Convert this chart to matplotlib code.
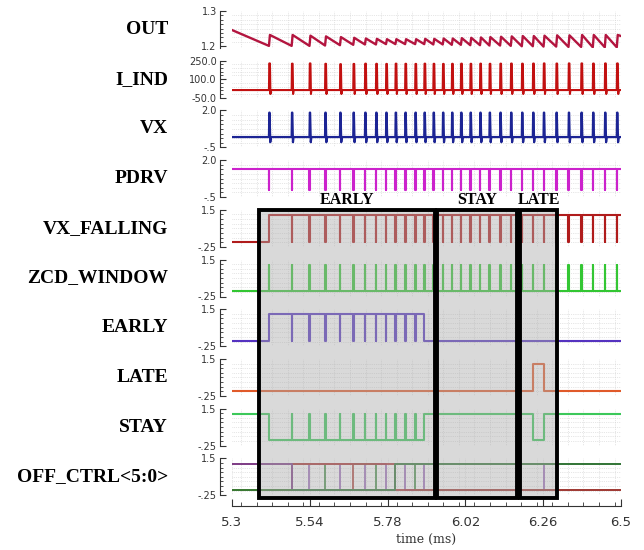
import matplotlib
matplotlib.use('Agg')
import matplotlib.pyplot as plt
import matplotlib.patches as patches
import matplotlib.transforms as mtransforms
from matplotlib.ticker import MultipleLocator, AutoMinorLocator, FixedLocator

pulse_t = [5.414, 5.484, 5.539, 5.587, 5.633, 5.674, 5.710, 5.744, 5.775, 5.804,
           5.834, 5.865, 5.893, 5.921, 5.950, 5.978, 6.006, 6.035, 6.065, 6.094,
           6.127, 6.160, 6.194, 6.228, 6.261, 6.300, 6.338, 6.377, 6.413, 6.450, 6.487]

# OUT ripple: value before each pulse, value just after it
out_start, out_end = 1.246, 1.229
out_trough = [1.201, 1.201, 1.201, 1.202, 1.203, 1.204, 1.205, 1.205, 1.206, 1.206,
              1.206, 1.206, 1.206, 1.205, 1.205, 1.204, 1.204, 1.203, 1.203, 1.202,
              1.202, 1.201, 1.200, 1.200, 1.199, 1.199, 1.198, 1.198, 1.197, 1.197, 1.197]
out_peak = [1.232, 1.232, 1.230, 1.228, 1.226, 1.224, 1.222, 1.221, 1.220, 1.220,
            1.220, 1.220, 1.221, 1.221, 1.222, 1.222, 1.223, 1.224, 1.225, 1.226,
            1.227, 1.228, 1.229, 1.229, 1.230, 1.231, 1.231, 1.232, 1.232, 1.232, 1.232]

iind_base, iind_dip = 12, -20
iind_peak = [228, 226, 228, 225, 222, 224, 226, 225, 224, 226,
             225, 224, 226, 225, 224, 225, 226, 225, 226, 225,
             226, 227, 226, 227, 228, 227, 228, 228, 227, 228, 228]

vx_base, vx_peak, vx_dip = 0.2, 1.85, -0.15
pdrv_high, pdrv_low = 1.37, -0.05
logic_low, logic_high = 0.0, 1.25

early_start, early_stop = 5.414, 5.893
late_start, late_stop = 6.228, 6.262

off_ctrl_edges = [5.484, 5.539, 5.587, 5.633, 5.674, 5.710, 5.744, 5.775, 5.804,
                  5.834, 5.865, 5.893, 6.261]
off_ctrl_codes = [40, 39, 38, 37, 36, 35, 34, 33, 32, 31, 30, 29, 28, 29]

region_names = ['EARLY', 'STAY', 'LATE']
region_start = [5.384, 5.932, 6.189]
region_end = [5.927, 6.179, 6.302]

names = ['OUT', 'I_IND', 'VX', 'PDRV', 'VX_FALLING', 'ZCD_WINDOW',
         'EARLY', 'LATE', 'STAY', 'OFF_CTRL<5:0>']

T0, T1 = 5.3, 6.5
W = 0.0015


def digital(init, edges):
    # edges: list of (time, new level)
    xs, ys = [T0], [init]
    cur = init
    for t, v in sorted(edges):
        xs += [t, t]
        ys += [cur, v]
        cur = v
    xs.append(T1)
    ys.append(cur)
    return xs, ys


def dips(times, lo, hi):
    e = []
    for t in times:
        e += [(t, lo), (t + W, hi)]
    return e


fig = plt.figure(figsize=(6.44, 5.5), dpi=100)
W_PX, H_PX = 644, 550
left, width = 232 / W_PX, 389 / W_PX
axes = []
for i in range(10):
    top = 11 + i * 49.7
    ax = fig.add_axes([left, 1 - (top + 37) / H_PX, width, 37 / H_PX])
    axes.append(ax)

ylims = [(1.195, 1.3), (-50, 250), (-0.5, 2.0), (-0.5, 2.0)] + [(-0.25, 1.5)] * 6
yticks = [[1.2, 1.3], [-50, 100, 250], [-0.5, 2.0], [-0.5, 2.0]] + [[-0.25, 1.5]] * 6
ylabels = [['1.2', '1.3'], ['-50.0', '100.0', '250.0'], ['-.5', '2.0'], ['-.5', '2.0']] + [['-.25', '1.5']] * 6

for i, ax in enumerate(axes):
    ax.set_xlim(T0, T1)
    ax.set_ylim(*ylims[i])
    ax.yaxis.set_major_locator(FixedLocator(yticks[i]))
    ax.set_yticklabels(ylabels[i])
    ax.yaxis.set_minor_locator(AutoMinorLocator(8 if i != 1 else 5))
    ax.xaxis.set_major_locator(MultipleLocator(0.24))
    ax.xaxis.set_minor_locator(MultipleLocator(0.048))
    for s in ['top', 'right', 'bottom']:
        ax.spines[s].set_visible(False)
    ax.spines['left'].set_position(('outward', 9))
    ax.spines['left'].set_color('#333333')
    ax.tick_params(axis='y', which='both', direction='in', colors='#333333',
                   labelsize=7, pad=2)
    ax.tick_params(axis='y', which='major', length=4)
    ax.tick_params(axis='y', which='minor', length=2.5)
    ax.tick_params(axis='x', which='both', bottom=False, labelbottom=False)
    ax.grid(True, which='both', axis='x', ls=':', lw=0.5, color='#cfcfcf')
    ax.grid(True, which='minor', axis='y', ls=':', lw=0.5, color='#cfcfcf')
    ax.set_facecolor('white')

# OUT
xs, ys = [T0], [out_start]
for t, lo, hi in zip(pulse_t, out_trough, out_peak):
    xs += [t, t + 0.003]
    ys += [lo, hi]
xs.append(T1)
ys.append(out_end)
axes[0].plot(xs, ys, color='#b3153f', lw=1.7)

# I_IND
xs, ys = [T0], [iind_base]
for t, pk in zip(pulse_t, iind_peak):
    xs += [t, t + 0.001, t + 0.003, t + 0.0045, t + 0.006]
    ys += [iind_base, pk, pk, iind_dip, iind_base]
xs.append(T1)
ys.append(iind_base)
axes[1].plot(xs, ys, color='#c21010', lw=1.5)

# VX
xs, ys = [T0], [vx_base]
for t in pulse_t:
    xs += [t, t + 0.001, t + 0.002, t + 0.004, t + 0.006]
    ys += [vx_base, vx_peak, vx_peak, vx_dip, vx_base]
xs.append(T1)
ys.append(vx_base)
axes[2].plot(xs, ys, color='#1c2494', lw=1.6)

# PDRV
axes[3].plot(*digital(pdrv_high, dips(pulse_t, pdrv_low, pdrv_high)), color='#cc22cc', lw=1.5)

# VX_FALLING
e = [(pulse_t[0], logic_high)] + dips(pulse_t[1:], logic_low, logic_high)
axes[4].plot(*digital(logic_low, e), color='#b01c1c', lw=1.5)

# ZCD_WINDOW
axes[5].plot(*digital(logic_low, dips(pulse_t, logic_high, logic_low)), color='#33c633', lw=1.5)

# EARLY
inner = [t for t in pulse_t if early_start < t < early_stop]
e = [(early_start, logic_high), (early_stop, logic_low)] + dips(inner, logic_low, logic_high)
axes[6].plot(*digital(logic_low, e), color='#5533c0', lw=1.5)

# LATE
axes[7].plot(*digital(logic_low, [(late_start, logic_high), (late_stop, logic_low)]),
             color='#e05a2a', lw=1.5)

# STAY
e = [(early_start, logic_low), (early_stop, logic_high),
     (late_start, logic_low), (late_stop, logic_high)] + dips(inner, logic_high, logic_low)
axes[8].plot(*digital(logic_high, e), color='#3cc85a', lw=1.5)

# OFF_CTRL<5:0> bus, one line per bit
bit_colors = {0: '#9a6ab8', 1: '#4c9a4c', 2: '#c05050', 3: '#7b3f8f', 4: '#2e7d32', 5: '#a83232'}
for b in [0, 1, 2, 5, 3, 4]:
    lv = [logic_high if (c >> b) & 1 else logic_low for c in off_ctrl_codes]
    axes[9].plot(*digital(lv[0], list(zip(off_ctrl_edges, lv[1:]))),
                 color=bit_colors[b], lw=1.3)

# bottom time axis
axb = axes[9]
axb.spines['bottom'].set_visible(True)
axb.spines['bottom'].set_position(('outward', 8))
axb.spines['bottom'].set_color('#333333')
axb.tick_params(axis='x', which='both', bottom=True, labelbottom=True, direction='in',
                colors='#333333', labelsize=9.5, pad=7)
axb.tick_params(axis='x', which='major', length=5)
axb.tick_params(axis='x', which='minor', length=3)
axb.set_xticks([5.3, 5.54, 5.78, 6.02, 6.26, 6.5])
axb.set_xticklabels(['5.3', '5.54', '5.78', '6.02', '6.26', '6.5'])
axb.set_xlabel('time (ms)', fontsize=9, family='DejaVu Serif', color='#333333', labelpad=3)

# signal names
for ax, nm in zip(axes, names):
    ax.text(168 / W_PX, 0.5, nm, transform=mtransforms.blended_transform_factory(fig.transFigure, ax.transAxes),
            ha='right', va='center', fontsize=14, fontweight='bold', family='Liberation Serif')

# EARLY / STAY / LATE boxes
trans = mtransforms.blended_transform_factory(axb.transData, fig.transFigure)
box_top, box_bot = 1 - 210 / H_PX, 1 - 498 / H_PX
for nm, a, b in zip(region_names, region_start, region_end):
    r = patches.Rectangle((a, box_bot), b - a, box_top - box_bot, transform=trans,
                          facecolor=(0.67, 0.67, 0.67, 0.45), edgecolor='black', lw=2.8, zorder=5)
    fig.patches.append(r)
    fig.text((a + b) / 2, box_top + 0.004, nm, transform=trans, ha='center', va='bottom',
             fontsize=11.5, fontweight='bold', family='Liberation Serif')

fig.savefig('out.png', dpi=100)
